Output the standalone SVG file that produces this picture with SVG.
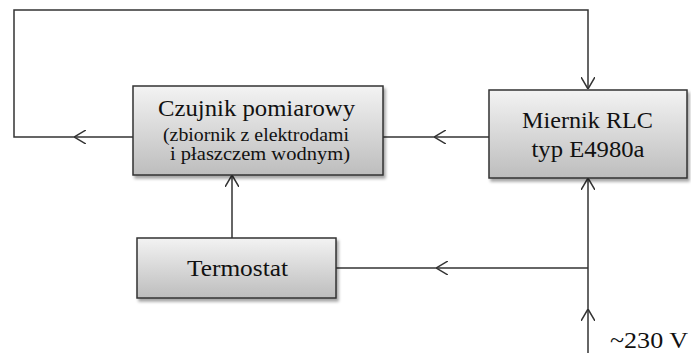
<svg xmlns="http://www.w3.org/2000/svg" width="691" height="353" viewBox="0 0 691 353">
<style>
.box{fill:url(#g);stroke:#333;stroke-width:1.5;filter:url(#sh)}
.t{fill:#111;text-anchor:middle}
.c{fill:none;stroke:#333;stroke-width:1.5}
</style>
<defs>
<linearGradient id="g" x1="0" y1="0" x2="0" y2="1">
<stop offset="0" stop-color="#f3f3f3"/>
<stop offset="1" stop-color="#bdbdbd"/>
</linearGradient>
<filter id="sh" x="-10%" y="-10%" width="125%" height="130%">
<feDropShadow dx="2" dy="3" stdDeviation="1.5" flood-color="#000" flood-opacity="0.35"/>
</filter>
<marker id="a" viewBox="0 0 12 14" refX="12" refY="7" markerWidth="12" markerHeight="14" markerUnits="userSpaceOnUse" orient="auto">
<path d="M0,0 L12,7 L0,14" fill="none" stroke="#333" stroke-width="1.5"/>
</marker>
</defs>
<g id="connectors">
<path class="c" d="M133,137 H74" marker-end="url(#a)"/>
<path class="c" d="M74,137 H14 V10 H588 V89" marker-end="url(#a)"/>
<path class="c" d="M489,137 H434" marker-end="url(#a)"/>
<path class="c" d="M434,137 H383"/>
<path class="c" d="M232,238 V175" marker-end="url(#a)"/>
<path class="c" d="M588,353 V309" marker-end="url(#a)"/>
<path class="c" d="M588,309 V178" marker-end="url(#a)"/>
<path class="c" d="M588,268 H436" marker-end="url(#a)"/>
<path class="c" d="M436,268 H336"/>
</g>
<g id="czujnik" font-family="'Liberation Serif', 'DejaVu Serif', serif">
<rect class="box" x="133" y="86" width="250" height="89"/>
<text class="t" x="256.5" y="116" font-size="23" textLength="197" lengthAdjust="spacingAndGlyphs">Czujnik pomiarowy</text>
<text class="t" x="256" y="141" font-size="18.5" textLength="186" lengthAdjust="spacingAndGlyphs">(zbiornik z elektrodami</text>
<text class="t" x="260" y="160" font-size="18.5" textLength="180" lengthAdjust="spacingAndGlyphs">i płaszczem wodnym)</text>
</g>
<g id="miernik" font-family="'Liberation Serif', 'DejaVu Serif', serif">
<rect class="box" x="489" y="90" width="198" height="88"/>
<text class="t" x="587.5" y="128" font-size="23.5" textLength="131" lengthAdjust="spacingAndGlyphs">Miernik RLC</text>
<text class="t" x="588" y="157" font-size="23.5" textLength="113" lengthAdjust="spacingAndGlyphs">typ E4980a</text>
</g>
<g id="termostat" font-family="'Liberation Serif', 'DejaVu Serif', serif">
<rect class="box" x="137" y="238" width="199" height="60"/>
<text class="t" x="237.5" y="276" font-size="23" textLength="101" lengthAdjust="spacingAndGlyphs">Termostat</text>
</g>
<g id="zasilanie" font-family="'Liberation Serif', 'DejaVu Serif', serif">
<text class="t" x="649" y="348" font-size="24" textLength="78" lengthAdjust="spacingAndGlyphs">~230 V</text>
</g>
</svg>
